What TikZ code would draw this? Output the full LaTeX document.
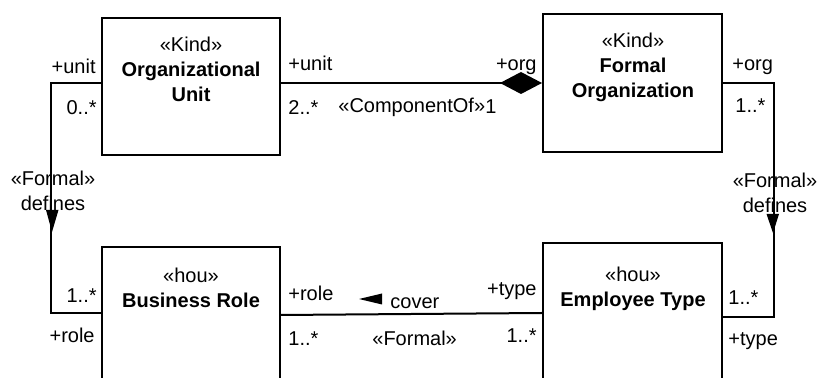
\documentclass[tikz,border=0pt]{standalone}
\usepackage{fontspec}
\setmainfont{Liberation Sans}
\usetikzlibrary{arrows.meta}

\begin{document}
\begin{tikzpicture}[x=0.5pt, y=-0.5pt,
    font=\fontsize{10}{12.5}\selectfont,
    cls/.style={draw, line width=1pt, inner sep=0pt},
    lbl/.style={inner sep=0pt},
    conn/.style={line width=1pt}]
        \useasboundingbox (0,0) rectangle (819,378);
        \clip (0,0) rectangle (819,378);

        % classes
        \node[cls, minimum width=89pt, minimum height=68.5pt] (ou) at (191,86.5) {};
        \node[cls, minimum width=89.5pt, minimum height=69pt] (fo) at (632.5,83) {};
        \node[cls, minimum width=89pt, minimum height=66.5pt] (br) at (191,313.5) {};
        \node[cls, minimum width=89.5pt, minimum height=70pt] (et) at (632.5,313) {};

        \node[lbl, align=center, anchor=north] (ou-t) at (191,37) {«Kind»\\\textbf{Organizational}\\\textbf{Unit}};
        \node[lbl, align=center, anchor=north] (fo-t) at (633,33) {«Kind»\\\textbf{Formal}\\\textbf{Organization}};
        \node[lbl, align=center, anchor=north] (br-t) at (191,268) {«hou»\\\textbf{Business Role}};
        \node[lbl, align=center, anchor=north] (et-t) at (633,267) {«hou»\\\textbf{Employee Type}};

        % ComponentOf
        \draw[conn, -{Diamond[length=21pt, width=11pt]}] ([yshift=1.75pt]ou.east) -- (fo.west);
        \node[lbl, anchor=base west] (cu-r) at (288,71) {+unit};
        \node[lbl, anchor=base west] (cu-m) at (288,115) {2..*};
        \node[lbl, anchor=base west] (cu-s) at (338,113) {«ComponentOf»};
        \node[lbl, anchor=base west] (co-m) at (485,114) {1};
        \node[lbl, anchor=base east] (co-r) at (537,71) {+org};

        % defines (left)
        \draw[conn] ([yshift=1.75pt]ou.west) -- ++(-50,0) |- (br.west);
        \fill (46,210) -- (58.5,210) -- (52,232) -- cycle;
        \node[lbl, anchor=base east] (lu-r) at (96,74) {+unit};
        \node[lbl, anchor=base east] (lu-m) at (97,115) {0..*};
        \node[lbl, align=center] (ld-s) at (53,191) {«Formal»\\defines};
        \node[lbl, anchor=base east] (lr-m) at (97,303) {1..*};
        \node[lbl, anchor=base east] (lr-r) at (95,343) {+role};

        % defines (right)
        \draw[conn] (fo.east) -- ++(51,0) |- ([yshift=-2pt]et.east);
        \fill (766.5,214) -- (779,214) -- (773,233) -- cycle;
        \node[lbl, anchor=base west] (ro-r) at (732,71) {+org};
        \node[lbl, anchor=base west] (ro-m) at (735,113) {1..*};
        \node[lbl, align=center] (rd-s) at (775,193) {«Formal»\\defines};
        \node[lbl, anchor=base west] (rt-m) at (728,305) {1..*};
        \node[lbl, anchor=base west] (rt-r) at (728,346) {+type};

        % cover
        \draw[conn] (et.west) -- ([yshift=-0.75pt]br.east);
        \fill (359,299) -- (382,293.5) -- (382,304.5) -- cycle;
        \node[lbl, anchor=base west] (cv-n) at (390,309) {cover};
        \node[lbl, anchor=base west] (cv-s) at (372,346) {«Formal»};
        \node[lbl, anchor=base west] (br-r) at (288,301) {+role};
        \node[lbl, anchor=base west] (br-m) at (288,346) {1..*};
        \node[lbl, anchor=base east] (et-r) at (537,296) {+type};
        \node[lbl, anchor=base east] (et-m) at (537,343) {1..*};
    \end{tikzpicture}
\end{document}
